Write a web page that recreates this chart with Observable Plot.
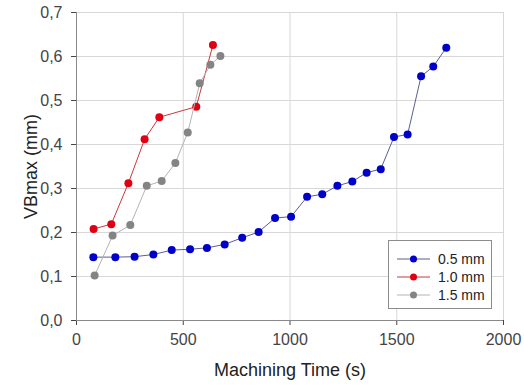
<!DOCTYPE html>
<html><head><meta charset="utf-8">
<script src="https://cdn.jsdelivr.net/npm/d3@7"></script>
<script src="https://cdn.jsdelivr.net/npm/@observablehq/plot@0.6"></script>
<style>
body{margin:0;background:#fff;font-family:"Liberation Sans",Arial,sans-serif;}
#wrap{position:relative;width:524px;height:387px;}
#legend{position:absolute;left:388px;top:240px;width:104px;height:69px;border:1px solid #8c8c8c;background:#fff;box-sizing:border-box;font-size:14px;color:#222;}
.row{position:absolute;left:0;height:18px;}
.row svg{position:absolute;left:8px;top:0;}
.row span{position:absolute;left:49px;top:0;line-height:18px;white-space:nowrap;}
</style></head>
<body><div id="wrap"></div>
<script>
const t05 = [79,182,272,360,446,532,611,694,776,853,930,1005,1080,1151,1222,1292,1359,1425,1487,1551,1614,1671,1732];
const v05 = [0.144,0.144,0.145,0.150,0.160,0.162,0.165,0.173,0.188,0.201,0.233,0.236,0.281,0.287,0.306,0.316,0.336,0.344,0.417,0.423,0.555,0.577,0.620];
const t10 = [80,163,243,319,388,561,639];
const v10 = [0.208,0.219,0.312,0.412,0.462,0.486,0.626];
const t15 = [85,169,252,329,399,463,521,577,627,674];
const v15 = [0.102,0.193,0.217,0.306,0.317,0.358,0.427,0.539,0.581,0.601];
const seriesNames = ["0.5 mm","1.0 mm","1.5 mm"];
const markerColors = ["#0000c8","#e00012","#848484"];
const lineColors = ["#5a5f8c","#c8393c","#b4b4b4"];
const xTicks = [0,500,1000,1500,2000];
const yTicks = [0,0.1,0.2,0.3,0.4,0.5,0.6,0.7];

const toRows = (t,v,s)=>t.map((x,i)=>({t:x,v:v[i],s}));
const data = [toRows(t05,v05,seriesNames[0]),toRows(t10,v10,seriesNames[1]),toRows(t15,v15,seriesNames[2])];

const marks = [
  Plot.gridX(xTicks,{stroke:"#d8d8d8",strokeOpacity:1}),
  Plot.gridY(yTicks,{stroke:"#d8d8d8",strokeOpacity:1}),
  Plot.axisX({ticks:xTicks,tickSize:5,tickPadding:8,fontSize:16,color:"#444",tickFormat:d=>String(d),label:"Machining Time (s)",labelAnchor:"center",labelArrow:"none",labelOffset:55}),
  Plot.axisY({ticks:yTicks,tickSize:5,tickPadding:9,fontSize:16,color:"#444",tickFormat:d=>d.toFixed(1).replace(".",","),label:"VBmax (mm)",labelAnchor:"center",labelArrow:"none",labelOffset:52}),
  Plot.ruleX([0],{stroke:"#8a8a8a"}),
  Plot.ruleY([0],{stroke:"#8a8a8a"})
];
data.forEach((d,i)=>{
  marks.push(Plot.line(d,{x:"t",y:"v",stroke:lineColors[i],strokeWidth:1}));
  marks.push(Plot.dot(d,{x:"t",y:"v",fill:markerColors[i],r:4,stroke:"none"}));
});
const chart = Plot.plot({
  width:524,height:387,marginLeft:76,marginRight:21,marginTop:12,marginBottom:67,
  style:{fontFamily:"Liberation Sans, Arial, sans-serif",background:"#fff"},
  x:{domain:[0,2000]},
  y:{domain:[0,0.7]},
  marks
});
const wrap = document.getElementById("wrap");
wrap.appendChild(chart);
chart.querySelectorAll("[aria-label='x-axis label'] text, [aria-label='y-axis label'] text").forEach(t=>{t.style.fontSize="18px";t.setAttribute("fill","#222");});
const leg = document.createElement("div"); leg.id="legend";
seriesNames.forEach((n,i)=>{
  const r=document.createElement("div"); r.className="row"; r.style.top=(9+i*18)+"px";
  r.innerHTML=`<svg width="34" height="18"><line x1="0" x2="33" y1="9" y2="9" stroke="${lineColors[i]}" stroke-width="1"/><circle cx="16.5" cy="9" r="3.5" fill="${markerColors[i]}"/></svg><span>${n}</span>`;
  leg.appendChild(r);
});
wrap.appendChild(leg);
</script></body></html>
